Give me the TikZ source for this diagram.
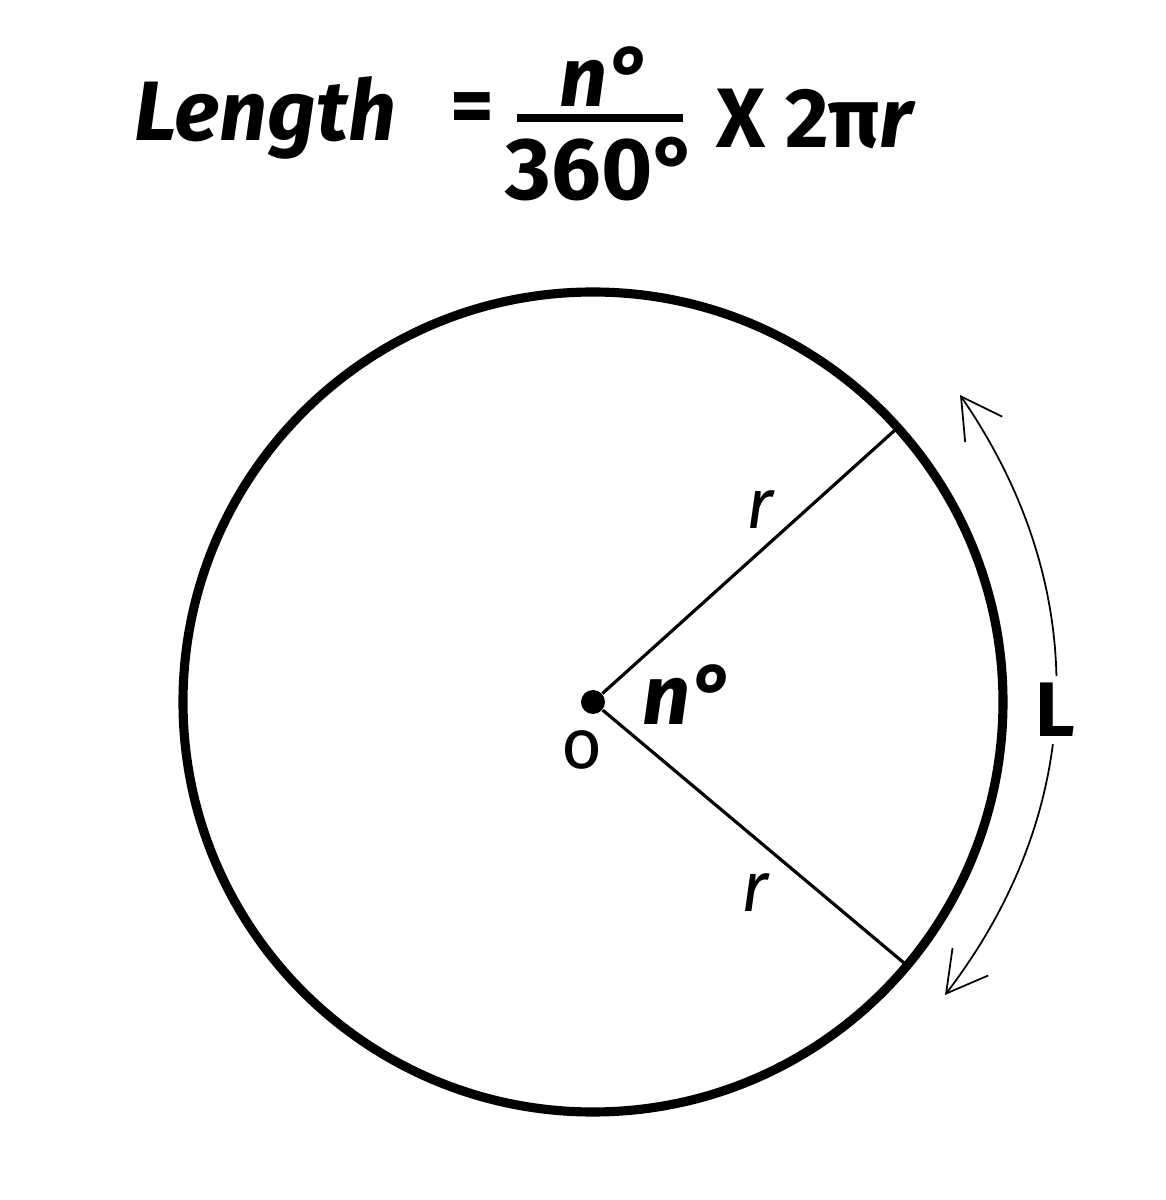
\documentclass[tikz,border=0pt]{standalone}
\usepackage{fontspec}
\setmainfont{Fira Sans}
\usetikzlibrary{arrows.meta}
\tikzset{rim/.style = {line width=2.6pt},
         rad/.style = {line width=0.9pt},
         bar/.style = {line width=2.2pt},
         dot/.style = {circle, fill, minimum size=2.4mm, inner sep=0pt},
         lbl/.style = {inner sep=1pt, font=\fontsize{20}{24}\selectfont\itshape},
         big/.style = {inner sep=1pt, font=\fontsize{24}{28}\selectfont\bfseries}}

\begin{document}
\begin{tikzpicture}[>={Straight Barb[length=4mm,width=4.5mm]}]
  \useasboundingbox (0,0) rectangle (11.66,12);
  % formula
  \node[big, anchor=base west] (len) at (1.30,10.59) {\itshape Length};
  \node[big] (eq) at (4.72,10.86) {=};
  \node[big, anchor=base] (num) at (6.05,10.93) {\itshape n°};
  \node[big, anchor=base, font=\fontsize{25}{28}\selectfont\bfseries] (den) at (6.02,10.00) {360°};
  \draw[bar] (5.17,10.82) -- (6.83,10.82);
  \node[big, anchor=base west] (rhs) at (7.12,10.52) {X 2π\textit{r}};
  % circle
  \node[dot] (o) at (5.93,4.98) {};
  \draw[rim] (o.center) circle (4.1);
  \coordinate (p) at ([shift={(42:4.1)}]o.center);
  \coordinate (q) at ([shift={(-40:4.1)}]o.center);
  \draw[rad] (o) -- (p);
  \draw[rad] (o) -- (q);
  \node[lbl] (r1) at (7.60,6.90) {r};
  \node[lbl] (r2) at (7.55,3.07) {r};
  \node[lbl] (oname) at (5.82,4.50) {\upshape o};
  \node[big] (n) at (6.88,5.05) {\itshape n°};
  % arc length
  \coordinate (a) at (9.60,8.05);
  \coordinate (b) at (9.45,2.05);
  \draw[<->, line width=0.5pt] (a) to[bend left=36]
    node[pos=0.52, fill=white, inner sep=2pt, font=\fontsize{22}{26}\selectfont\bfseries] (L) {L} (b);
\end{tikzpicture}
\end{document}
